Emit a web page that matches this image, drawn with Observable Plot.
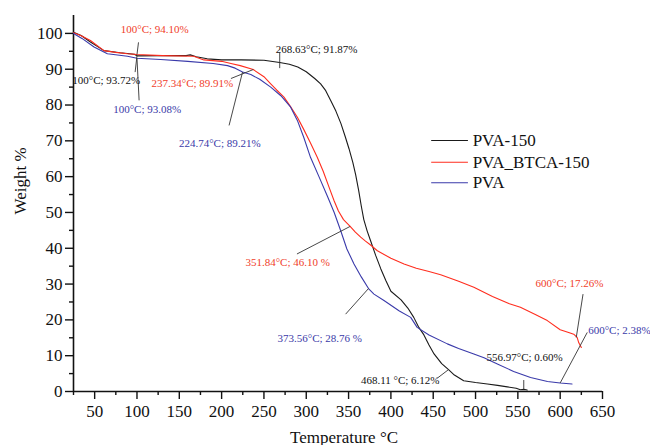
<!DOCTYPE html>
<html>
<head>
<meta charset="utf-8">
<script src="https://cdn.jsdelivr.net/npm/d3@7"></script>
<script src="https://cdn.jsdelivr.net/npm/@observablehq/plot@0.6"></script>
<style>
  html, body { margin: 0; padding: 0; background: #fff; }
</style>
</head>
<body>
<div id="chart"></div>
<script>
// ---- Series data (Temperature °C, Weight %) ----
const seriesNames = ["PVA-150", "PVA_BTCA-150", "PVA"];
const seriesColors = ["#1a1a1a", "#ff2d1e", "#3a3aaa"];

const pva150T = [25, 34, 45, 61, 80, 97, 100, 130, 158, 163, 170, 183, 200, 223, 250, 268.63, 280, 290, 300, 310, 317, 323, 329, 335, 341, 346, 350.5, 355, 358.4, 362, 365, 368, 372, 376, 382, 388, 394, 400, 412, 420, 427, 433, 439, 445, 451, 460, 468.11, 475, 486, 500, 514, 526, 537.6, 548, 553, 556.97, 561];
const pva150W = [100.3, 99.4, 97.6, 95.2, 94.6, 94.2, 93.72, 93.8, 93.8, 94.0, 93.5, 92.9, 92.6, 92.6, 92.5, 91.87, 91.4, 90.6, 89.3, 87.4, 85.9, 84.0, 81.2, 78.3, 74.8, 71.2, 67.8, 64.0, 60.5, 56.0, 51.8, 48.0, 44.8, 42.1, 38.0, 34.3, 31.0, 28.0, 25.6, 23.3, 20.7, 17.9, 15.8, 13.0, 10.5, 7.8, 6.12, 4.6, 3.0, 2.5, 2.1, 1.7, 1.3, 0.9, 0.5, 0.6, 0.4];

const btcaT = [25, 33.6, 45, 61, 75, 88.8, 100, 130, 167, 179, 200, 211, 222, 237.34, 250, 258, 265, 273.7, 281, 289.5, 297, 305, 313, 320, 327, 333, 338, 344, 351.84, 358, 364.3, 370, 376, 384, 400, 415.5, 430, 445, 458.8, 480, 498, 520, 540, 553, 570, 584.8, 600, 610, 616, 620, 622, 625];
const btcaW = [100.2, 99.4, 98.0, 95.2, 94.7, 94.3, 94.10, 93.8, 93.6, 92.6, 92.2, 91.6, 91.0, 89.91, 87.9, 85.9, 84.2, 82.2, 79.7, 76.6, 73.2, 69.4, 65.4, 61.5, 57.0, 53.2, 50.4, 48.0, 46.10, 44.5, 43.1, 42.0, 40.9, 39.3, 37.2, 35.6, 34.4, 33.5, 32.6, 30.8, 29.1, 26.5, 24.5, 23.5, 21.6, 19.8, 17.26, 16.5, 16.0, 15.1, 13.6, 12.3];

const pvaT = [25, 35, 49.3, 65, 88.8, 100, 128, 160, 190, 207, 216, 224.74, 234.5, 245, 258, 270, 281.6, 289.5, 297, 305, 315, 325, 333, 340.7, 348, 356.4, 365, 373.56, 380, 391.8, 410, 423.4, 431, 445, 466.7, 480, 498, 510, 525.8, 545, 565, 585, 600, 614];
const pvaW = [100.0, 98.6, 96.2, 94.3, 93.6, 93.08, 92.7, 92.2, 91.6, 91.0, 90.3, 89.21, 88.5, 87.2, 85.0, 82.6, 79.4, 75.7, 71.0, 65.4, 60.0, 54.5, 50.0, 44.9, 39.8, 35.6, 32.0, 28.76, 27.2, 25.4, 22.5, 20.7, 17.9, 15.8, 13.3, 12.0, 10.5, 9.4, 7.7, 5.6, 3.9, 2.8, 2.38, 2.1];

// ---- Annotations ----
const annText = ["100°C; 94.10%", "100°C; 93.72%", "100°C; 93.08%", "237.34°C; 89.91%", "224.74°C; 89.21%", "268.63°C; 91.87%", "351.84°C; 46.10 %", "373.56°C; 28.76 %", "468.11 °C; 6.12%", "556.97°C; 0.60%", "600°C; 17.26%", "600°C; 2.38%"];
const annSeries = [1, 0, 2, 1, 2, 0, 1, 2, 0, 0, 1, 2];
const annX = [121, 63.7, 112, 165.5, 197.8, 312.3, 278, 316, 411, 558, 611, 670];
const annY = [101.1, 86.9, 78.8, 86.1, 69.3, 95.4, 36.1, 14.9, 3.2, 9.5, 30.2, 17.0];

// leader lines: from (lx1, ly1) to (lx2, ly2)
const leadX1 = [101.8, 100, 100, 211, 208.8, 268.63, 289, 346.5, 454.7, 556.97, 627, 632];
const leadY1 = [97.5, 93.72, 93.08, 87.4, 74.3, 94.6, 38.4, 21.6, 3.7, 3.2, 27.2, 16.5];
const leadX2 = [100, 97.8, 102.5, 237.34, 224.74, 268.63, 351.84, 373.56, 468.11, 556.97, 619, 600];
const leadY2 = [94.1, 89.2, 81.3, 89.91, 89.21, 90.3, 46.1, 28.76, 6.12, 0.6, 15.1, 2.38];

// ---- Legend ----
const legendX1 = 447.6, legendX2 = 491, legendTextX = 496.6;
const legendY = [70.1, 64.0, 58.3];

// ---- Axis ticks ----
const xMajor = d3.range(50, 651, 50);
const xMinor = d3.range(25, 651, 25).filter(v => v % 50 !== 0);
const yMajor = d3.range(0, 101, 10);
const yMinor = d3.range(5, 101, 10);

// Build tables
const seriesData = [
  {T: pva150T, W: pva150W},
  {T: btcaT, W: btcaW},
  {T: pvaT, W: pvaW}
].flatMap((s, i) => s.T.map((t, j) => ({name: seriesNames[i], T: t, W: s.W[j]})));

const annColors = ["#111", "#f0402a", "#3a3aa8"];
const annotations = annText.map((t, i) => ({text: t, x: annX[i], y: annY[i], color: annColors[annSeries[i]]}));
const leaders = leadX1.map((v, i) => ({x1: v, y1: leadY1[i], x2: leadX2[i], y2: leadY2[i]}));
const legend = seriesNames.map((n, i) => ({name: n, y: legendY[i], color: seriesColors[i]}));

const chart = Plot.plot({
  width: 650,
  height: 445,
  marginLeft: 73,
  marginRight: 48,
  marginTop: 15,
  marginBottom: 54,
  x: {domain: [25, 650]},
  y: {domain: [0, 105]},
  color: {domain: seriesNames, range: seriesColors},
  style: {fontFamily: "'Liberation Serif', 'DejaVu Serif', serif", background: "white", color: "#111"},
  marks: [
    Plot.axisX({ticks: xMajor, tickSize: 8, tickPadding: 5, fontSize: 17, label: null, strokeWidth: 1.4}),
    Plot.axisX({ticks: xMinor, tickSize: 4, tickFormat: () => "", label: null, strokeWidth: 1.4}),
    Plot.axisY({ticks: yMajor, tickSize: 8, tickPadding: 3, fontSize: 17, label: null, strokeWidth: 1.4}),
    Plot.axisY({ticks: yMinor, tickSize: 4, tickFormat: () => "", label: null, strokeWidth: 1.4}),
    Plot.ruleX([25], {strokeWidth: 1.6, stroke: "#111"}),
    Plot.ruleY([0], {strokeWidth: 1.6, stroke: "#111"}),
    Plot.line(seriesData, {x: "T", y: "W", z: "name", stroke: "name", strokeWidth: 1.1}),
    Plot.link(leaders, {x1: "x1", y1: "y1", x2: "x2", y2: "y2", stroke: "#333", strokeWidth: 0.9}),
    Plot.text(annotations, {x: "x", y: "y", text: "text", fill: "color", fontSize: 11}),
    Plot.link(legend, {x1: () => legendX1, x2: () => legendX2, y1: "y", y2: "y", stroke: "color", strokeWidth: 1.1}),
    Plot.text(legend, {x: () => legendTextX, y: "y", text: "name", textAnchor: "start", fontSize: 17, fill: "#111"}),
    Plot.text(["Weight %"], {frameAnchor: "left", dx: -53, dy: 11, rotate: -90, fontSize: 17, fill: "#111"}),
    Plot.text(["Temperature °C"], {frameAnchor: "bottom", dx: 6, dy: 51, fontSize: 17, fill: "#111"})
  ]
});
document.getElementById("chart").appendChild(chart);
</script>
</body>
</html>
